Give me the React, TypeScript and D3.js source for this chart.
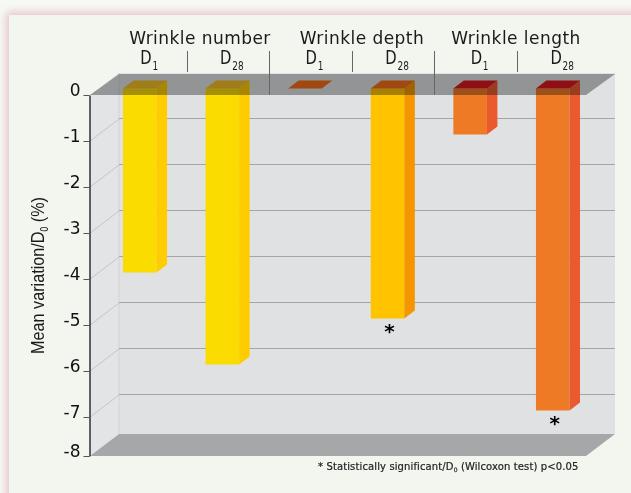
import React, { useEffect, useRef } from 'react';
import * as d3 from 'd3';

const groups = ['Wrinkle number', 'Wrinkle depth', 'Wrinkle length'];
const days = ['1', '28', '1', '28', '1', '28'];
const values = [-4, -6, 0, -5, -1, -7];
const significant = [false, false, false, true, false, true];
const yTicks = [0, -1, -2, -3, -4, -5, -6, -7, -8];

const frontColors = ['#fbdc00', '#fbdc00', '#ffc300', '#ffc300', '#ee7a26', '#ee7a26'];
const sideColors = ['#ffcc00', '#ffcc00', '#f49600', '#f49600', '#e95a2e', '#e95a2e'];
const topColors = ['#a07d18', '#a07d18', '#a0480f', '#a0480f', '#8f0f14', '#8f0f14'];

const FONT = '"DejaVu Sans", sans-serif';

const App: React.FC = () => {
    const axisRef = useRef<SVGGElement>(null);

    // the axis is cut short at the floor, so -8 sits closer to -7 than the other steps
    const y = d3.scaleLinear().domain([0, -7, -8]).range([95, 417, 456]);
    const x = d3.scaleBand<number>()
        .domain(d3.range(values.length))
        .range([123, 569.5])
        .paddingInner(0.594)
        .paddingOuter(0);
    const w = x.bandwidth();

    const left = 90, right = 586, depthX = 29, depthY = 22;
    const barDepthX = 10.5, barDepthY = 8, barShift = 6.5;
    const top = y(0), floor = y(-8);
    const poly = (pts: number[][]) => d3.line()(pts as [number, number][]) + 'Z';

    useEffect(() => {
        if (!axisRef.current) return;
        const g = d3.select(axisRef.current);
        g.selectAll('*').remove();
        g.call(d3.axisLeft(y).tickValues(yTicks).tickSize(6).tickSizeOuter(0).tickFormat((d) => `${d}`).tickPadding(3) as any);
        g.select('.domain').attr('stroke', '#000').attr('stroke-width', 1.2);
        g.selectAll('.tick line').attr('stroke', '#555');
        g.selectAll('.tick text')
            .attr('fill', '#111')
            .attr('dy', '0em')
            .style('font-family', FONT)
            .style('font-size', '17px');
    }, []);

    const titleX = [200, 362, 516];
    const dividers = [
        { at: 0, tall: false }, { at: 1, tall: true }, { at: 2, tall: false },
        { at: 3, tall: true }, { at: 4, tall: false },
    ];

    return (
        <svg width={631} height={493} style={{ position: 'absolute', left: 0, top: 0 }}>
            <defs>
                <filter id="glow" x="-5%" y="-5%" width="110%" height="110%">
                    <feGaussianBlur stdDeviation="4" />
                </filter>
            </defs>
            <rect width={631} height={493} fill="#f6f9f5" />
            <rect x={6} y={12} width={640} height={500} fill="#e6c4cb" filter="url(#glow)" />
            <rect x={9} y={15} width={622} height={478} fill="#f2f6ef" />

            {/* walls and floor */}
            <path d={poly([[left, top], [left + depthX, top - depthY], [left + depthX, floor - depthY], [left, floor]])} fill="#e3e4e6" />
            <rect x={left + depthX} y={top - depthY} width={right - left} height={floor - top} fill="#e0e1e3" />
            <path d={poly([[left, floor], [left + depthX, floor - depthY], [right + depthX, floor - depthY], [right, floor]])} fill="#a6a7a8" />
            <line x1={left + depthX} x2={left + depthX} y1={top - depthY} y2={floor - depthY} stroke="#d3d4d6" />

            {/* gridlines */}
            {yTicks.slice(1, 8).map((t) => (
                <g key={t}>
                    <line x1={left} y1={y(t)} x2={left + depthX} y2={y(t) - depthY} stroke="#c4c5c7" />
                    <line x1={left + depthX} y1={y(t) - depthY - 0.5} x2={right + depthX} y2={y(t) - depthY - 0.5} stroke="#a5a5a6" />
                </g>
            ))}

            {/* bars */}
            {values.map((v, i) => {
                const x0 = x(i)!, x1 = x0 + w;
                const y0 = y(0) - barShift, y1 = y(v) - barShift;
                if (v === 0) return null;
                return (
                    <g key={i}>
                        <rect x={x0} y={y0} width={w} height={y1 - y0} fill={frontColors[i]} />
                        <path d={poly([[x1, y0], [x1 + barDepthX, y0 - barDepthY], [x1 + barDepthX, y1 - barDepthY], [x1, y1]])} fill={sideColors[i]} />
                    </g>
                );
            })}

            {/* ceiling darkens whatever passes through it */}
            <path
                d={poly([[left, top], [left + depthX, top - depthY + 1], [right + depthX, top - depthY + 1], [right, top]])}
                fill="#a8a8a8"
                style={{ mixBlendMode: 'multiply' }}
            />

            {values.map((v, i) => {
                const x0 = x(i)!, x1 = x0 + w;
                const y0 = y(0) - barShift;
                return (
                    <path
                        key={i}
                        d={poly([[x0, y0], [x1, y0], [x1 + barDepthX, y0 - barDepthY], [x0 + barDepthX, y0 - barDepthY]])}
                        fill={topColors[i]}
                    />
                );
            })}

            {/* dividers */}
            {dividers.map((d) => {
                const dx = Math.round((x(d.at)! + w + x(d.at + 1)!) / 2 + 5.5) + 0.5;
                return <line key={d.at} x1={dx} x2={dx} y1={51} y2={d.tall ? top : 72} stroke="#666" />;
            })}

            {groups.map((g, i) => (
                <text key={g} x={titleX[i]} y={44} textAnchor="middle" fontFamily={FONT} fontSize={17} letterSpacing={0.45} fill="#1a1a1a">{g}</text>
            ))}

            {days.map((d, i) => (
                <text
                    key={i}
                    transform={`translate(${x(i)! + w / 2 + 9.5},64) scale(0.78,1)`}
                    textAnchor="middle"
                    fontFamily={FONT}
                    fontSize={19}
                    fill="#1a1a1a"
                >
                    D<tspan dx={1} dy={6} fontSize={11.5}>{d}</tspan>
                </text>
            ))}

            {values.map((v, i) => significant[i] ? (
                <text key={i} x={x(i)! + w / 2 + 2} y={y(v) + 12.5} textAnchor="middle" fontFamily={FONT} fontWeight="bold" fontSize={20} fill="#000">*</text>
            ) : null)}

            <g ref={axisRef} transform={`translate(${left - 0.5},0)`} />

            <text
                transform="translate(44,275.5) rotate(-90)"
                textAnchor="middle"
                fontFamily='"Liberation Sans", sans-serif'
                fontSize={19}
                textLength={157}
                lengthAdjust="spacingAndGlyphs"
                fill="#1a1a1a"
            >
                Mean variation/D<tspan dy={4} fontSize={10}>0</tspan><tspan dy={-4}> (%)</tspan>
            </text>

            <text x={318} y={470} fontFamily={FONT} fontSize={10} letterSpacing={0.12} stroke="#222" strokeWidth={0.2} fill="#222">
                * Statistically significant/D<tspan dy={2} fontSize={6}>0</tspan><tspan dy={-2}> (Wilcoxon test) p&lt;0.05</tspan>
            </text>
        </svg>
    );
};

export default App;
